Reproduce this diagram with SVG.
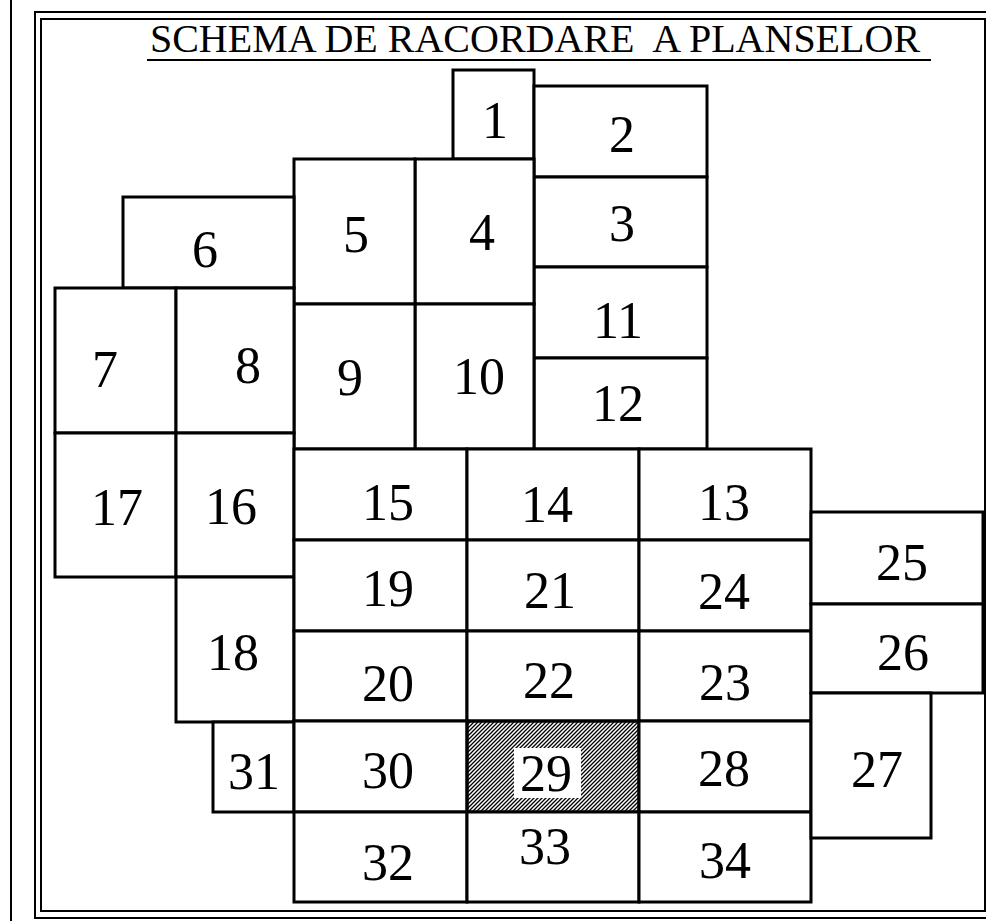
<svg xmlns="http://www.w3.org/2000/svg" width="986" height="921" viewBox="0 0 986 921" font-family="Liberation Serif, Times New Roman, serif">
<style>
.c{fill:#fff;stroke:#000;stroke-width:3}
.t{font-family:"Liberation Serif","Times New Roman",serif;font-size:52px;text-anchor:middle;fill:#000}
.f{fill:none;stroke:#000;stroke-width:2}
</style>
<defs>
<pattern id="hatch" patternUnits="userSpaceOnUse" width="4" height="4">
<path d="M-1,1 l2,-2 M0,4 l4,-4 M3,5 l2,-2" stroke="#000" stroke-width="1.3"/>
</pattern>
</defs>
<rect width="986" height="921" fill="#fff"/>
<g id="frame">
<line x1="11" y1="0" x2="11" y2="921" class="f"/>
<rect x="35" y="12" width="958" height="906" class="f"/>
<rect x="41" y="19" width="944" height="892" class="f"/>
</g>
<g id="title">
<text x="535" y="52" font-size="40" text-anchor="middle">SCHEMA DE RACORDARE&#160; A PLANSELOR</text>
<line x1="147" y1="60" x2="931" y2="60" stroke="#000" stroke-width="2"/>
</g>
<g id="n1"><rect class="c" x="453" y="70" width="81" height="89"/><text class="t" x="495" y="138">1</text></g>
<g id="n2"><rect class="c" x="534" y="86" width="173" height="91"/><text class="t" x="622" y="152">2</text></g>
<g id="n3"><rect class="c" x="534" y="177" width="173" height="90"/><text class="t" x="622" y="241">3</text></g>
<g id="n11"><rect class="c" x="534" y="267" width="173" height="91"/><text class="t" x="618" y="338">11</text></g>
<g id="n12"><rect class="c" x="534" y="358" width="173" height="91"/><text class="t" x="618" y="421">12</text></g>
<g id="n4"><rect class="c" x="415" y="159" width="119" height="145"/><text class="t" x="482" y="250">4</text></g>
<g id="n10"><rect class="c" x="415" y="304" width="119" height="145"/><text class="t" x="479" y="394">10</text></g>
<g id="n5"><rect class="c" x="294" y="159" width="121" height="145"/><text class="t" x="356" y="252">5</text></g>
<g id="n9"><rect class="c" x="294" y="304" width="121" height="145"/><text class="t" x="350" y="395">9</text></g>
<g id="n6"><rect class="c" x="123" y="197" width="171" height="91"/><text class="t" x="205" y="267">6</text></g>
<g id="n7"><rect class="c" x="55" y="288" width="121" height="145"/><text class="t" x="105" y="387">7</text></g>
<g id="n8"><rect class="c" x="176" y="288" width="118" height="145"/><text class="t" x="248" y="383">8</text></g>
<g id="n17"><rect class="c" x="55" y="433" width="121" height="144"/><text class="t" x="117" y="525">17</text></g>
<g id="n16"><rect class="c" x="176" y="433" width="118" height="144"/><text class="t" x="231" y="524">16</text></g>
<g id="n18"><rect class="c" x="176" y="577" width="118" height="145"/><text class="t" x="233" y="670">18</text></g>
<g id="n31"><rect class="c" x="213" y="722" width="81" height="90"/><text class="t" x="254" y="789">31</text></g>
<g id="n15"><rect class="c" x="294" y="449" width="173" height="91"/><text class="t" x="388" y="520">15</text></g>
<g id="n14"><rect class="c" x="467" y="449" width="172" height="91"/><text class="t" x="547" y="522">14</text></g>
<g id="n13"><rect class="c" x="639" y="449" width="172" height="91"/><text class="t" x="724" y="520">13</text></g>
<g id="n19"><rect class="c" x="294" y="540" width="173" height="91"/><text class="t" x="388" y="606">19</text></g>
<g id="n21"><rect class="c" x="467" y="540" width="172" height="91"/><text class="t" x="550" y="608">21</text></g>
<g id="n24"><rect class="c" x="639" y="540" width="172" height="91"/><text class="t" x="724" y="609">24</text></g>
<g id="n20"><rect class="c" x="294" y="631" width="173" height="90"/><text class="t" x="388" y="701">20</text></g>
<g id="n22"><rect class="c" x="467" y="631" width="172" height="90"/><text class="t" x="549" y="698">22</text></g>
<g id="n23"><rect class="c" x="639" y="631" width="172" height="90"/><text class="t" x="725" y="700">23</text></g>
<g id="n30"><rect class="c" x="294" y="721" width="173" height="91"/><text class="t" x="388" y="788">30</text></g>
<g id="n29"><rect class="c" x="467" y="721" width="172" height="91" style="fill:url(#hatch)"/><rect x="514" y="748" width="67" height="50" fill="#fff"/><text class="t" x="546" y="791">29</text></g>
<g id="n28"><rect class="c" x="639" y="721" width="172" height="91"/><text class="t" x="724" y="786">28</text></g>
<g id="n32"><rect class="c" x="294" y="812" width="173" height="90"/><text class="t" x="388" y="880">32</text></g>
<g id="n33"><rect class="c" x="467" y="812" width="172" height="90"/><text class="t" x="545" y="864">33</text></g>
<g id="n34"><rect class="c" x="639" y="812" width="172" height="90"/><text class="t" x="725" y="878">34</text></g>
<g id="n25"><rect class="c" x="811" y="512" width="172" height="92"/><text class="t" x="902" y="580">25</text></g>
<g id="n26"><rect class="c" x="811" y="604" width="172" height="89"/><text class="t" x="903" y="670">26</text></g>
<g id="n27"><rect class="c" x="811" y="693" width="120" height="145"/><text class="t" x="877" y="787">27</text></g>
</svg>
